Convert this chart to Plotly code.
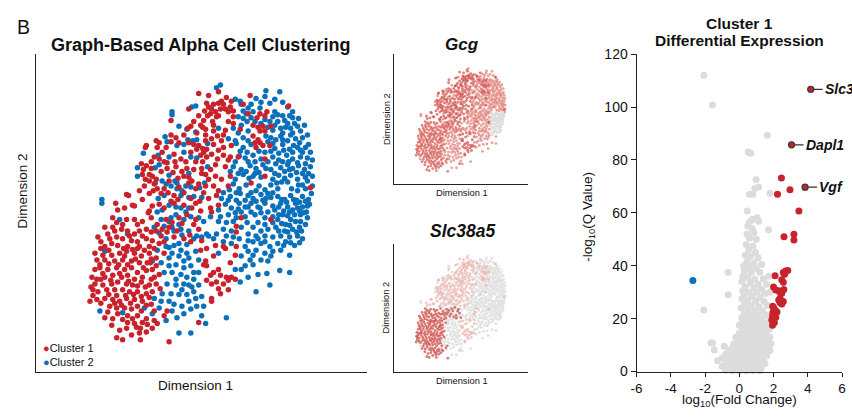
import plotly.graph_objects as go

# ---------------- data ----------------
# Embedding coordinates (Dimension 1, Dimension 2).
cluster1_upper = [(215,87),(195,89),(205,91),
(247,91),(223,93),(218,97),(210,100),(215,99),(220,100),(203,99),(240,100),(228,97),(217,105),
(286,102),(205,103),(208,105),(222,105),(227,103),(185,105),(201,107),(212,108),(230,107),(225,108),(245,110),(264,108),
(167,117),(204,112),(207,110),(213,113),(200,117),(209,118),(215,112),(230,113),(225,118),(254,114),(257,110),(262,112),(195,112),(190,118),(230,120),
(197,122),(199,124),(187,123),(184,125),(250,122),(255,124),(260,123),(268,123),(257,128),(262,128),(237,126),(222,127),(210,128),(202,126),(210,122),
(202,132),(167,132),(172,135),(202,138),(152,138),(214,133),(208,136),(218,138),(250,133),(255,137),(252,140),(257,140),(180,132),(193,130),(220,132),
(155,140),(153,145),(142,143),(141,145),(167,139),(162,145),(190,142),(195,143),(199,146),(203,147),(193,147),(210,142),(220,145),(228,143),(215,148),(260,143),(253,145),(267,143),(175,140),(185,140),
(150,155),(155,157),(160,160),(163,161),(177,157),(171,160),(187,150),(197,153),(203,155),(199,160),(208,152),(214,157),(220,153),(200,150),(225,158),(227,155),(235,155),(262,157),(170,152),(158,150),(182,160),(192,160),
(137,162),(142,164),(139,168),(147,167),(157,170),(163,167),(172,165),(169,171),(178,170),(183,167),(190,168),(198,167),(198,172),(202,173),(212,163),(207,168),(222,165),(147,160),
(138,173),(141,178),(148,175),(152,178),(174,177),(180,175),(185,176),(205,178),(212,175),(218,178),(227,175),(262,175),(145,173),
(145,180),(140,185),(135,190),(153,188),(149,190),(160,188),(185,182),(188,180),(195,183),(192,188),(210,185),(202,185),(215,190),(225,185),(248,182),(175,186),(165,180),(150,183),
(145,193),(164,192),(157,193),(170,195),(174,199),(122,194),(124,195),(138,199),(187,198),(213,195),(205,198),(200,192),(180,192),
(130,206),(111,203),(148,206),(155,204),(160,208),(167,201),(170,203),(180,205),(188,208),(192,203),(196,201),(113,210),(120,208),(215,205),(207,208),(145,211),(128,205),
(208,212),(197,211),(144,213),(308,187),
(238,218),(233,227),(233,233),(268,220),(233,248),(232,257),(220,248),(222,250),(212,247),(197,252),(203,250),(210,258),(202,263),(200,267),(203,268),(227,265),
(215,272),(210,275),(207,278),(217,278),(223,280),(228,280),(232,282),(213,285),(208,287),(220,287),(225,283),(215,292),(217,297),(225,293),(203,283),(208,302),(208,305),(195,327)]

cluster1_lower = [(147,218),(138,222),(130,220),(118,225),(112,223),(108,228),
(153,225),(162,220),(168,223),(175,218),(183,215),(190,225),(147,233),(157,237),(163,233),(170,238),(180,240),(187,243),(195,230),(198,242),
(108,218),(122,220),(133,225),(117,230),(123,232),(100,228),(130,235),(135,232),(142,230),
(93,238),(105,240),(112,238),(118,240),(127,242),(133,243),(142,240),(148,242),(155,245),(113,247),(123,248),(135,248),(145,248),(100,248),(107,245),
(90,255),(98,257),(107,257),(115,255),(122,253),(130,255),(137,258),(145,255),(152,260),(160,255),(110,263),(118,262),(127,263),(135,265),(143,265),(95,267),(100,262),
(87,280),(95,270),(103,272),(112,270),(120,272),(127,270),(133,275),(142,273),(148,272),(155,277),
(100,280),(108,278),(117,280),(123,278),(130,282),(138,280),(147,282),
(90,287),(98,288),(107,287),(113,285),(122,287),(128,288),(137,285),(145,288),(152,287),
(93,295),(102,293),(110,293),(118,293),(125,295),(133,295),(142,297),(148,295),
(85,305),(92,303),(100,302),(108,303),(115,305),(122,302),(130,303),(138,305),(147,308),
(105,310),(112,312),(120,312),(127,313),(137,315),
(113,318),(123,320),(133,320),(142,323),(123,327),(130,328),(138,327),(107,330),(132,332),(122,333),(148,333),(112,343),(135,338),(150,325),(165,347),(153,328),(163,315),(160,320),(136,345),(88,293),
(96,250),(104,252),(119,250),(128,251),(140,252),(150,250),(92,262),(104,266),(114,267),(123,267),(131,261),(139,270),(147,261),(152,268),
(90,272),(98,276),(106,283),(115,276),(124,284),(133,289),(141,290),(150,280),(96,282),(104,298),(112,299),(121,299),(129,298),(137,300),(145,301),
(88,299),(96,307),(103,316),(110,307),(117,309),(126,307),(133,310),(142,309),(100,322),(108,323),(118,324),(128,323),(136,333),(143,329),(115,335),(127,340),(118,345),(142,337),
(103,235),(110,232),(125,237),(138,237),(152,232),(160,243),(165,228),(173,232),(178,224),(186,236),(192,220),(158,230),(120,258),(133,250),(96,243),(86,290),(92,282),(150,315),(156,292),(146,265)]

cluster2_main = [(213,83),(217,80),(263,86),(277,87),
(253,94),(237,97),(238,100),(267,99),(232,95),(258,98),(248,100),(262,92),(272,95),(280,98),
(192,102),(188,103),(168,108),(272,108),(275,111),(257,104),(245,104),(285,103),(240,107),(290,108),(250,108),(243,110),
(168,111),(270,113),(280,112),(287,112),(290,114),(282,117),(275,118),(248,114),(240,115),(244,118),(252,118),(267,118),(262,116),(235,113),(296,115),
(175,123),(183,126),(285,120),(292,120),(295,123),(288,125),(238,122),(270,127),(278,125),(298,128),(245,128),(230,125),(215,125),(280,130),(192,129),(302,122),(258,120),(265,124),(272,122),(283,124),(290,130),
(161,134),(184,137),(189,138),(193,137),(163,139),(263,133),(273,137),(278,133),(288,132),(293,136),(300,135),(297,140),(285,138),(240,135),(232,138),(225,136),(265,139),(305,132),(235,130),(245,138),(268,135),(280,137),
(173,143),(180,142),(204,141),(139,151),(240,145),(248,142),(272,146),(280,142),(287,147),(295,145),(303,145),(300,150),(237,149),(256,149),(290,150),(281,148),(233,141),(306,142),(308,150),(291,143),(298,148),(270,141),
(154,153),(165,155),(180,150),(187,155),(193,156),(242,156),(250,153),(258,157),(270,155),(276,158),(284,153),(290,157),(298,155),(305,156),(265,160),(280,160),(245,160),(232,160),(236,154),(244,150),(252,160),(262,150),(268,149),(276,151),(286,160),(295,161),(303,162),(310,158),
(133,166),(151,166),(155,163),(204,165),(230,165),(238,168),(247,164),(253,167),(260,163),(268,168),(273,162),(278,166),(285,163),(290,167),(296,164),(302,168),(308,165),(282,170),(300,172),(227,170),(235,172),(243,170),(256,171),(263,167),(287,168),(294,171),(306,172),
(133,175),(165,174),(158,180),(171,180),(185,172),(232,178),(240,173),(246,177),(252,172),(258,176),(270,178),(276,174),(282,177),(288,174),(295,178),(303,176),(310,175),(285,181),(250,175),(272,172),(279,181),(305,180),(300,184),
(151,182),(162,183),(167,185),(173,182),(173,188),(178,190),(182,185),(187,186),(196,187),(201,182),(230,183),(236,188),(243,184),(256,185),(262,189),(268,184),(275,188),(289,188),(296,184),(303,188),(270,192),(226,189),(233,192),(248,192),(253,190),(265,193),(274,182),(295,190),(310,185),(309,193),
(160,195),(154,198),(177,195),(185,197),(190,196),(198,197),(220,192),(227,196),(233,200),(245,195),(250,198),(258,194),(263,198),(237,193),(218,198),(225,200),(242,200),(253,201),(260,200),(268,197),
(97,199),(97,203),(172,207),(177,208),(222,204),(228,208),(236,203),(242,207),(248,203),(255,207),(262,203),(270,206),(165,205),(185,208),
(153,212),(158,210),(182,212),(157,220),(167,218),(172,215),(180,220),(187,217),(195,218),(200,222),(150,228),(160,227),(168,228),(177,230),(185,232),(193,237),(198,238),(203,235),
(175,225),(165,222),(155,234),(162,240),(170,232),(178,236),(190,240),(183,246),(175,245),(165,249),
(215,210),(235,209),(248,212),(257,208),(232,213),(238,212),(245,207),(258,213),(265,212),
(207,217),(217,217),(225,215),(233,218),(242,217),(252,215),(262,218),(270,217),
(215,222),(223,223),(220,230),(228,232),(238,228),(250,228),(258,232),(265,230),(230,222),(244,223),(255,223),(262,225),(270,223),
(205,237),(213,235),(223,237),(245,235),(253,237),(262,237),(270,238),(236,240),(245,242),(255,240),(262,243),(230,238),(210,240),
(220,243),(228,245),(250,243),(258,245),(267,248),
(245,253),(253,252),(262,255),(270,253),(287,257),(242,248),(215,255),(250,257),(258,262),(238,258),(268,258),(242,268),
(247,262),(250,267),(265,263),(277,273),(287,275),(255,277),(245,280),(238,272),(232,272),(237,285),(267,288),(253,295),(195,275),(264,276),
(198,300),(200,310),(223,322),(198,320),(202,328),
(153,252),(162,248),(170,247),(177,252),(183,255),(192,253),(148,263),(157,265),(165,260),(172,267),(180,263),(187,268),(160,275),(168,275),(177,277),(183,280),(190,282),
(185,260),(175,258),(168,255),(195,262),(190,275),(180,270),(165,268),(172,282),(185,288),(178,293),(165,305),(185,305),(193,310),(180,318),(168,315),(190,295),(158,297),
(163,287),(172,288),(180,287),(188,290),(195,288),(167,297),(175,298),(183,298),(192,302),(157,305),(170,308),(178,310),(187,313),(173,322),(162,325),(175,338),(187,338),(148,318),
(100,253),(95,315),(123,235),(118,317),(140,312),(150,302),(155,312),(115,220)]

# Cluster 2 cells with low Gcg expression (grey patch on the right of the Gcg map)
cluster2_gcg_low = [(275,196),(282,199),(288,195),(300,196),(306,199),(294,200),(278,203),(285,207),(293,203),(300,207),(307,204),(290,210),
(287,212),(295,208),(280,215),(288,220),(298,215),(305,218),(272,210),(273,228),(282,232),(290,230),(297,228),(303,225),
(278,237),(287,238),(295,237),(300,240),(275,245),(283,243),(292,247),(278,252),(275,220),(283,225),(293,222),(304,212),
(279,199),(284,202),(291,199),(297,202),(303,201),(276,207),(281,211),(297,211),(301,213),(276,215),(285,216),(292,215),
(279,224),(287,226),(298,222),(294,233),(285,233),(276,232),(281,247),(288,244),(297,244),(299,232),(305,206)]

# Volcano plot: (log10 fold change, -log10 Q value)
volcano_ns = [(-2.07,112),(-1.56,100.8),(1.63,89.3),(0.52,83.0),(0.67,82.5),(0.98,72.6),(1.13,69.8),(0.9,69.2),(1.79,67.4),(0.6,67.0),(0.79,67.0),
(0.46,60.7),(1.04,58.1),(1.13,56.8),(1.71,53.6),(0.75,57.5),(0.6,56.5),
(0.5,55),(0.75,54),(0.45,52),(0.85,52.5),(0.6,50.5),(1.0,50),(0.4,48),(0.8,47.5),(0.55,46),(0.95,45),(0.35,44),(0.65,43.5),(1.1,43),(0.45,41.5),(0.85,41),(1.3,40.5),(0.25,40),(0.6,39.5),(1.0,39),
(0.3,38),(0.7,37.5),(1.2,37.5),(1.71,36),(0.2,36),(0.5,35.5),(0.9,35),(1.4,35),(0.15,34),(0.65,33.5),(1.1,33),(1.6,33),(0.35,32),(0.85,31.5),(1.3,31),(0.2,30.5),(0.55,30),(1.0,30),(1.5,29.5),(1.8,30),(-0.65,37.5),(-0.65,29),
(0.3,29),(0.75,28.5),(1.2,28),(0.15,27.5),(0.5,27),(0.95,26.5),(1.45,26.5),(0.3,25.5),(0.7,25),(1.15,24.5),(1.65,25),(0.1,24),(0.5,23.5),(0.9,23),(1.35,23),(0.3,22),(0.7,21.5),(1.1,21.5),(1.55,21.5),(0.15,20.5),(0.5,20),(0.9,20),(1.3,20),(1.75,20),(-2.07,23.3),
(0.2,19),(0.6,18.5),(1.0,18.5),(1.4,18.5),(0.0,17.5),(0.4,17),(0.8,17),(1.2,17),(1.6,17.5),(0.2,16),(0.6,15.5),(1.0,15.5),(1.4,15.5),(1.75,16),(0.0,14.5),(0.4,14),(0.8,14),(1.2,14),(1.6,14),
(-0.2,13),(0.2,12.5),(0.6,12.5),(1.0,12.5),(1.4,12.5),(1.8,13),(0.0,11.5),(0.4,11),(0.8,11),(1.2,11),(1.6,11),(-0.3,10.5),(0.2,10),(0.6,10),(1.0,10),(1.4,10),(1.85,10.5),(-1.65,10.8),(-1.56,10.8),(-1.46,8.1),(-0.88,9.6),
(-0.4,9),(0.0,9),(0.4,9),(0.8,9),(1.2,9),(1.6,9),(-0.6,8),(-0.2,7.5),(0.2,7.5),(0.6,7.5),(1.0,7.5),(1.4,7.5),(1.8,8),(-0.8,6.5),(-0.4,6.5),(0.0,6),(0.4,6),(0.8,6),(1.2,6),(1.6,6),
(-1.0,5),(-0.6,5),(-0.2,4.5),(0.2,4.5),(0.6,4.5),(1.0,4.5),(1.4,4.5),(-0.8,3.5),(-0.4,3),(0.0,3),(0.4,3),(0.8,3),(1.2,3),(1.5,3),(-1.0,2),(-0.6,1.5),(-0.2,1.5),(0.2,1.5),(0.6,1.5),(1.0,1.5),(1.3,1.5),
(-0.8,0.5),(-0.4,0.3),(0.0,0.3),(0.4,0.3),(0.8,0.3),(1.2,0.3),(-1.27,4.1),(-0.52,6.5),(-0.23,4.6)]

volcano_up = [(2.46,73.2),(2.96,68.7),(2.23,67.0),(3.48,60.7),(3.19,51.9),(2.61,51.0),(3.19,49.7),
(2.09,36.2),(2.57,37.4),(2.7,38.0),(2.83,38.2),(2.65,36.8),(2.48,34.7),(2.57,33.8),(2.0,32.0),(2.13,30.8),(2.3,30.5),(2.4,29.8),(2.48,29.6),
(2.38,27.7),(2.57,26.5),(2.48,25.5),(2.38,26.0),(2.0,24.1),(2.1,23.2),(1.96,22.3),(2.2,22.5),(1.94,21.0),(2.13,20.5),(1.9,19.5),(1.94,17.5),(2.05,18.5),(2.6,31.0),(2.3,27.0),(1.95,24.7)]

volcano_down = [(-2.71,34.4)]

labeled_genes = ["Slc38a5", "Dapl1", "Vgf"]
labeled_fc = [4.17, 3.05, 3.84]
labeled_q = [106.7, 85.7, 69.7]

fc_ticks = [-6, -4, -2, 0, 2, 4, 6]
q_ticks = [0, 20, 40, 60, 80, 100, 120]

# ---------------- styling ----------------
RED = "#c8232c"
BLUE = "#0b70ba"
GREY = "#dcdcdc"
FONT = "Arial, Liberation Sans, Helvetica, sans-serif"
W, H = 852, 418


def split(pairs):
    return [p[0] for p in pairs], [p[1] for p in pairs]


def fx(x):
    """pixel column -> paper fraction"""
    return min(1.0, max(0.0, x / W))


def fy(y):
    """pixel row -> paper fraction"""
    return min(1.0, max(0.0, 1 - y / H))


fig = go.Figure()

# main clustering panel
for pts, col, name in [(cluster2_main + cluster2_gcg_low, BLUE, "Cluster 2"),
                       (cluster1_upper + cluster1_lower, RED, "Cluster 1")]:
    xs, ys = split(pts)
    fig.add_trace(go.Scatter(x=xs, y=ys, mode="markers", name=name, showlegend=False,
                             marker=dict(size=5.5, color=col, line=dict(width=0)),
                             xaxis="x", yaxis="y"))

# Gcg feature map
for pts, col in [(cluster2_gcg_low, "#dedede"),
                 (cluster2_main, "rgba(222,122,114,0.7)"),
                 (cluster1_upper, "rgba(210,82,76,0.75)"),
                 (cluster1_lower, "rgba(214,92,86,0.75)")]:
    xs, ys = split(pts)
    fig.add_trace(go.Scatter(x=xs, y=ys, mode="markers", showlegend=False,
                             marker=dict(size=2.8, color=col, line=dict(width=0)),
                             xaxis="x2", yaxis="y2"))

# Slc38a5 feature map
for pts, col in [(cluster2_main, "#e2e2e2"),
                 (cluster2_gcg_low, "#e2e2e2"),
                 (cluster1_upper, "rgba(236,176,171,0.7)"),
                 (cluster1_lower, "rgba(206,78,72,0.75)")]:
    xs, ys = split(pts)
    fig.add_trace(go.Scatter(x=xs, y=ys, mode="markers", showlegend=False,
                             marker=dict(size=2.8, color=col, line=dict(width=0)),
                             xaxis="x3", yaxis="y3"))

# volcano
for pts, col in [(volcano_ns, GREY), (volcano_up, RED), (volcano_down, BLUE)]:
    xs, ys = split(pts)
    fig.add_trace(go.Scatter(x=xs, y=ys, mode="markers", showlegend=False, cliponaxis=False,
                             marker=dict(size=7, color=col, line=dict(width=0)),
                             xaxis="x4", yaxis="y4"))
fig.add_trace(go.Scatter(x=labeled_fc, y=labeled_q, mode="markers", showlegend=False,
                         marker=dict(size=6, color=RED, line=dict(width=1.3, color="#3a3a3a")),
                         xaxis="x4", yaxis="y4"))

blank = dict(showticklabels=False, ticks="", showgrid=False, zeroline=False,
             showline=True, linecolor="#222", linewidth=1.3, fixedrange=True)

MAIN_X = [30, 365]
MAIN_Y = [378, 48]
FEAT_X = [30, 367.5]
GCG_Y = [380, 42.5]
SLC_Y = [381.7, 49.2]

fig.update_layout(
    width=W, height=H, margin=dict(l=0, r=0, t=0, b=0),
    paper_bgcolor="white", plot_bgcolor="white",
    font=dict(family=FONT, color="#111"),
    xaxis=dict(domain=[fx(30), fx(365)], range=MAIN_X, **blank),
    yaxis=dict(domain=[fy(378), fy(48)], range=MAIN_Y, **blank),
    xaxis2=dict(domain=[fx(393), fx(528)], range=FEAT_X, anchor="y2", **blank),
    yaxis2=dict(domain=[fy(183), fy(48)], range=GCG_Y, anchor="x2", **blank),
    xaxis3=dict(domain=[fx(393), fx(528)], range=FEAT_X, anchor="y3", **blank),
    yaxis3=dict(domain=[fy(378), fy(245)], range=SLC_Y, anchor="x3", **blank),
    xaxis4=dict(domain=[fx(638), fx(846)], range=[-6, 6], anchor="y4",
                tickvals=fc_ticks, ticktext=[str(v) for v in fc_ticks],
                ticks="outside", ticklen=4, tickcolor="#222", tickwidth=1,
                tickfont=dict(size=13.5, color="#111"),
                showgrid=False, zeroline=False, showline=True, linecolor="#222", linewidth=1),
    yaxis4=dict(domain=[fy(378), fy(48)], range=[0, 120], anchor="x4",
                tickvals=q_ticks, ticktext=[str(v) for v in q_ticks],
                ticks="outside", ticklen=5, tickcolor="#222", tickwidth=1,
                tickfont=dict(size=14, color="#111"),
                showgrid=False, zeroline=False, showline=True, linecolor="#222", linewidth=1),
)

ann = []


def text(x, y, s, size, bold=False, italic=False, angle=0, anchor="center", yanchor="middle"):
    if italic:
        s = "<i>" + s + "</i>"
    if bold:
        s = "<b>" + s + "</b>"
    ann.append(dict(x=fx(x), y=fy(y), xref="paper", yref="paper", text=s, showarrow=False,
                    font=dict(size=size, family=FONT, color="#111"), textangle=angle,
                    xanchor=anchor, yanchor=yanchor, borderpad=0))


text(10, 20, "B", 19.5, anchor="left")
text(197, 38, "Graph-Based Alpha Cell Clustering", 18, bold=True)
text(17, 190, "Dimension 2", 13.5, angle=-90)
text(192, 393, "Dimension 1", 13.5)
text(461, 38, "Gcg", 17, bold=True, italic=True)
text(462, 232, "Slc38a5", 17.5, bold=True, italic=True)
text(385, 115, "Dimension 2", 9.3, angle=-90)
text(385, 311, "Dimension 2", 9.3, angle=-90)
text(461, 192, "Dimension 1", 9.3)
text(461, 388, "Dimension 1", 9.3)
text(742, 16, "Cluster 1", 15.5, bold=True)
text(742, 34, "Differential Expression", 15.5, bold=True)
text(742, 418, "log<sub>10</sub>(Fold Change)", 13.5, yanchor="bottom")
text(590, 217, "-log<sub>10</sub>(Q Value)", 13.5, angle=-90)

ann.append(dict(x=fx(35), y=fy(360.5), xref="paper", yref="paper", showarrow=False,
                xanchor="left", yanchor="middle", align="left",
                text=("<span style='color:%s'>●</span>Cluster 1<br>"
                      "<span style='color:%s'>●</span>Cluster 2") % (RED, BLUE),
                font=dict(size=11, family=FONT, color="#111")))

for g, xv, yv in zip(labeled_genes, labeled_fc, labeled_q):
    ann.append(dict(x=xv, y=yv, xref="x4", yref="y4", ax=12, ay=0, showarrow=True,
                    arrowhead=0, arrowwidth=1.2, arrowcolor="#333", standoff=3,
                    xanchor="left", yanchor="middle", text="<b><i>%s</i></b>" % g,
                    font=dict(size=14, family=FONT, color="#111")))

fig.update_layout(annotations=ann)
fig.write_html("out.html", config={"displayModeBar": False},
               post_script="document.body.style.margin='0';document.body.style.padding='0';")
